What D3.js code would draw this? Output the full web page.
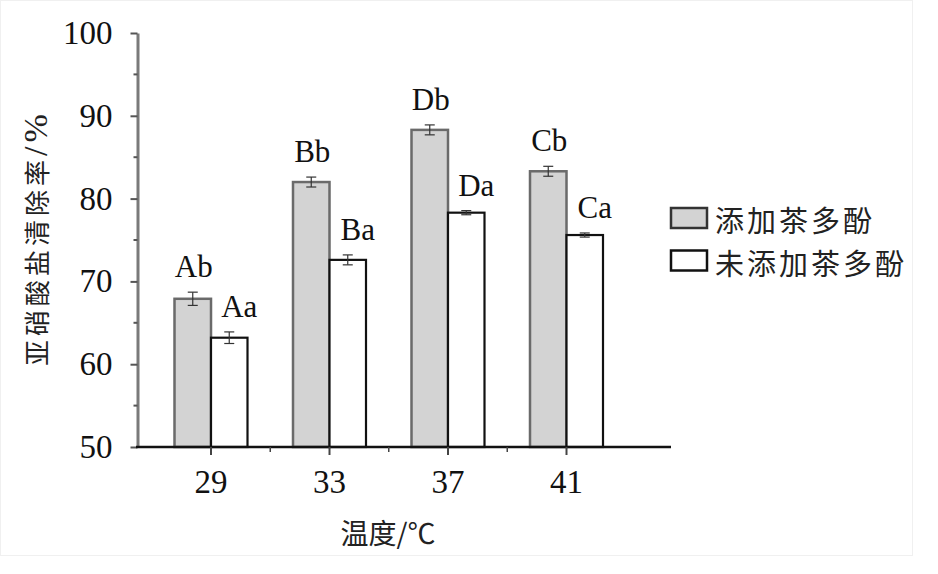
<!DOCTYPE html>
<html>
<head>
<meta charset="utf-8">
<script src="https://cdn.jsdelivr.net/npm/d3@7"></script>
<style>
  html, body { margin: 0; padding: 0; background: #fff; }
  svg { display: block; }
</style>
</head>
<body>
<svg id="chart" width="938" height="574"></svg>
<script>
const categories = ["29", "33", "37", "41"];
const seriesNames = ["添加茶多酚", "未添加茶多酚"];
const withTP = [67.9, 82.0, 88.3, 83.3];
const withTPErr = [0.8, 0.6, 0.6, 0.6];
const withoutTP = [63.2, 72.6, 78.3, 75.6];
const withoutTPErr = [0.7, 0.6, 0.25, 0.25];
const labelsWith = ["Ab", "Bb", "Db", "Cb"];
const labelsWithout = ["Aa", "Ba", "Da", "Ca"];
const yTicks = [50, 60, 70, 80, 90, 100];
const yMinorTicks = [55, 65, 75, 85, 95];

const svg = d3.select("#chart");
const serif = "'Liberation Serif', 'Times New Roman', serif";
const cjk = "'Noto Sans CJK SC', sans-serif";

// faint frame of the figure
svg.append("rect").attr("x", 0.5).attr("y", 0.5).attr("width", 912).attr("height", 555)
  .attr("fill", "#fff").attr("stroke", "#f0f0f0");

const y = d3.scaleLinear().domain([50, 100]).range([447, 33]);
const x = d3.scaleBand().domain(categories).range([151.75, 625.75]).padding(0);
const barW = 36.5;

// Y axis
const yAxisG = svg.append("g").attr("transform", "translate(137.5,0)");
yAxisG.call(d3.axisLeft(y).tickValues(yTicks).tickSize(7).tickPadding(18).tickSizeOuter(0))
  .call(g => g.select(".domain").attr("stroke", "#7a7a7a").attr("stroke-width", 3))
  .call(g => g.selectAll(".tick line").attr("stroke", "#555").attr("stroke-width", 2))
  .call(g => g.selectAll(".tick text").attr("font-family", serif).attr("font-size", 33).attr("fill", "#111"));
yAxisG.selectAll(".minor").data(yMinorTicks).enter().append("line")
  .attr("x1", -4).attr("x2", 0).attr("y1", d => y(d)).attr("y2", d => y(d))
  .attr("stroke", "#555").attr("stroke-width", 2);

// Bars
const g = svg.append("g");
categories.forEach((c, i) => {
  const cx = x(c) + x.bandwidth() / 2;
  g.append("rect").attr("x", cx - barW).attr("y", y(withTP[i])).attr("width", barW)
    .attr("height", y(50) - y(withTP[i])).attr("fill", "#d3d3d3")
    .attr("stroke", "#6a6a6a").attr("stroke-width", 2.5);
  g.append("rect").attr("x", cx).attr("y", y(withoutTP[i])).attr("width", barW)
    .attr("height", y(50) - y(withoutTP[i])).attr("fill", "#fff")
    .attr("stroke", "#111").attr("stroke-width", 2.2);
});

// Error bars
function errBar(cx, v, e) {
  const eg = g.append("g").attr("stroke", "#333").attr("stroke-width", 1.2);
  eg.append("line").attr("x1", cx).attr("x2", cx).attr("y1", y(v + e)).attr("y2", y(v - e));
  eg.append("line").attr("x1", cx - 5).attr("x2", cx + 5).attr("y1", y(v + e)).attr("y2", y(v + e));
  eg.append("line").attr("x1", cx - 5).attr("x2", cx + 5).attr("y1", y(v - e)).attr("y2", y(v - e));
}
categories.forEach((c, i) => {
  const cx = x(c) + x.bandwidth() / 2;
  errBar(cx - barW / 2, withTP[i], withTPErr[i]);
  errBar(cx + barW / 2, withoutTP[i], withoutTPErr[i]);
});

// Significance labels
categories.forEach((c, i) => {
  const cx = x(c) + x.bandwidth() / 2;
  g.append("text").attr("x", cx - barW / 2 + 1).attr("y", y(withTP[i] + withTPErr[i]) - 15)
    .attr("text-anchor", "middle").attr("font-family", serif).attr("font-size", 31).attr("fill", "#111")
    .text(labelsWith[i]);
  g.append("text").attr("x", cx + barW / 2 + 10).attr("y", y(withoutTP[i] + withoutTPErr[i]) - 15)
    .attr("text-anchor", "middle").attr("font-family", serif).attr("font-size", 31).attr("fill", "#111")
    .text(labelsWithout[i]);
});

// X axis
const xAxisG = svg.append("g").attr("transform", "translate(0,447)");
xAxisG.append("line").attr("x1", 136).attr("x2", 671).attr("y1", 0).attr("y2", 0)
  .attr("stroke", "#111").attr("stroke-width", 2.5);
const xAxis = d3.axisBottom(x).tickSize(8).tickPadding(15).tickSizeOuter(0);
const xg = xAxisG.append("g").call(xAxis);
xg.select(".domain").remove();
xg.selectAll(".tick line").attr("stroke", "#444").attr("stroke-width", 2);
xg.selectAll(".tick text").attr("font-family", serif).attr("font-size", 33).attr("fill", "#111");
const minorX = categories.slice(1).map(c => x(c));
xAxisG.selectAll(".xminor").data(minorX).enter().append("line")
  .attr("x1", d => d).attr("x2", d => d).attr("y1", 0).attr("y2", 5)
  .attr("stroke", "#444").attr("stroke-width", 1.5);

// Axis titles
svg.append("text").attr("transform", "translate(35,238) rotate(-90)")
  .attr("text-anchor", "middle").attr("dominant-baseline", "central")
  .attr("font-family", cjk).attr("font-size", 26).attr("letter-spacing", 4).attr("fill", "#222")
  .call(t => {
    t.append("tspan").text("亚硝酸盐清除率");
    t.append("tspan").attr("font-family", serif).attr("font-size", 34).text("/%");
  });

svg.append("text").attr("x", 388).attr("y", 532)
  .attr("text-anchor", "middle").attr("dominant-baseline", "central")
  .attr("font-family", cjk).attr("font-size", 28).attr("fill", "#222")
  .text("温度/℃");

// Legend
const legend = svg.append("g");
const legendFill = ["#d3d3d3", "#fff"];
const legendStroke = ["#333", "#111"];
const legendY = [218, 260.5];
seriesNames.forEach((n, i) => {
  legend.append("rect").attr("x", 671).attr("y", legendY[i] - 10).attr("width", 36).attr("height", 20)
    .attr("fill", legendFill[i]).attr("stroke", legendStroke[i]).attr("stroke-width", 2.5);
  legend.append("text").attr("x", 715).attr("y", legendY[i] + 1).attr("dominant-baseline", "central")
    .attr("font-family", cjk).attr("font-size", 29).attr("letter-spacing", 3).attr("fill", "#222")
    .text(n);
});
</script>
</body>
</html>
